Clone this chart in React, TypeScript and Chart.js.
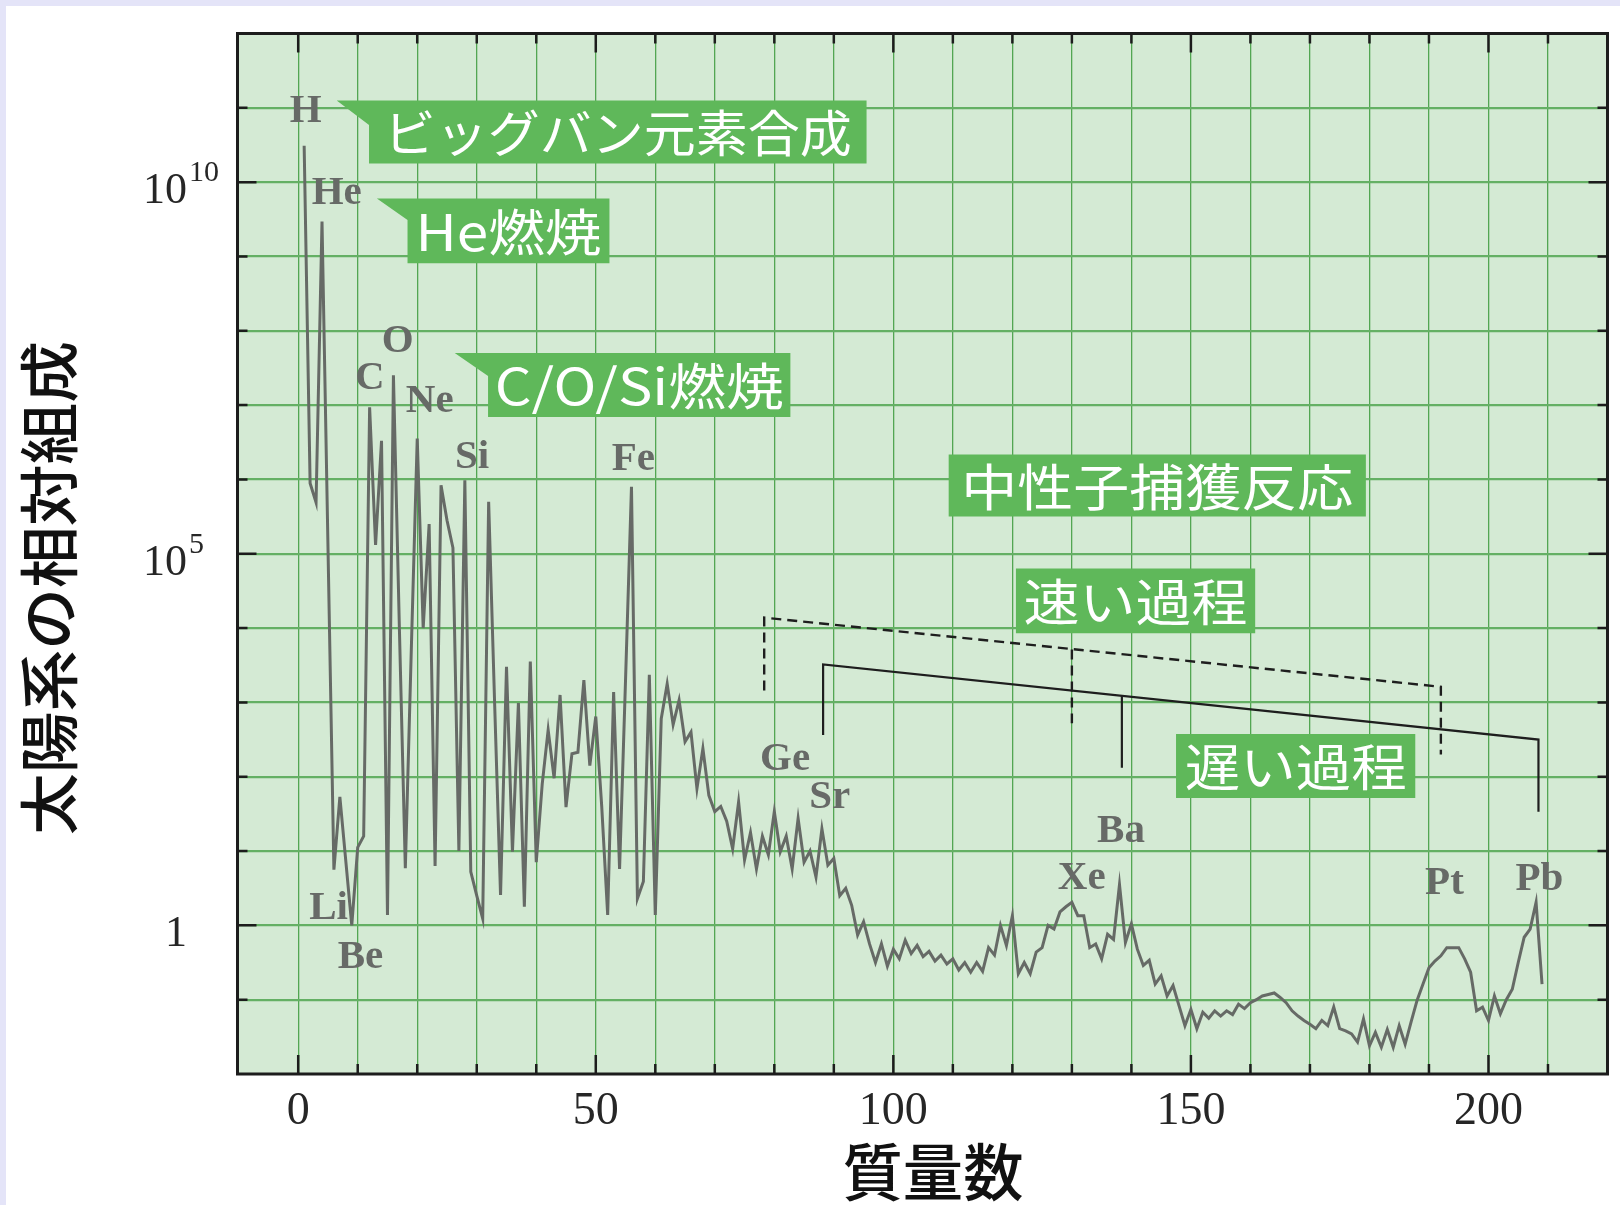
import React, { useEffect, useRef } from "react";
import { Chart, registerables } from "chart.js";

Chart.register(...registerables);

const PAGE_W = 1620;
const PAGE_H = 1205;

// Solar-system relative abundance, given as log10 values, by mass number A
const lightNuclei: [number, number][] = [
  [1, 10.49], [2, 5.95], [3, 5.69], [4, 9.47], [6, 0.75], [7, 1.73], [9, 0.0],
  [10, 1.05], [11, 1.2], [12, 6.97], [13, 5.12], [14, 6.52], [15, 0.14], [16, 7.4],
  [17, 4.0], [18, 0.77], [19, 3.7], [20, 6.55], [21, 4.0], [22, 5.4], [23, 0.8],
  [24, 5.92], [25, 5.45], [26, 5.08], [27, 1.0],
];
const siliconToIron: [number, number][] = [
  [28, 5.99], [29, 0.72], [30, 0.4], [31, 0.09], [32, 5.7], [33, 3.0], [34, 0.41],
  [35, 3.48], [36, 0.99], [37, 2.99], [38, 0.25], [39, 3.55], [40, 0.85], [41, 1.9],
  [42, 2.63], [43, 1.98], [44, 3.1], [45, 1.59], [46, 2.31], [47, 2.33], [48, 3.3],
  [49, 2.15], [50, 2.81], [51, 1.6], [52, 0.14], [53, 3.14], [54, 0.76], [55, 3.3],
  [56, 5.9], [57, 0.36], [58, 0.59], [59, 3.37], [60, 0.14], [61, 2.78], [62, 3.25],
];
const ironTail: [number, number][] = [
  [63, 2.7], [64, 3.03], [65, 2.47], [66, 2.6], [67, 1.84], [68, 2.38], [69, 1.75],
  [70, 1.53], [71, 1.6], [72, 1.4], [73, 1.03], [74, 1.66], [75, 0.88], [76, 1.25],
  [77, 0.76], [78, 1.2], [79, 0.95], [80, 1.53], [81, 0.99], [82, 1.2], [83, 0.76],
  [84, 1.44], [85, 0.85], [86, 1.0], [87, 0.65], [88, 1.3], [89, 0.81], [90, 0.9],
  [91, 0.4], [92, 0.5], [93, 0.27], [94, -0.13], [95, 0.05], [96, -0.25], [97, -0.5],
  [98, -0.25], [99, -0.55], [100, -0.32],
];
const neutronCaptureA: [number, number][] = [
  [101, -0.45], [102, -0.2], [103, -0.38], [104, -0.27], [105, -0.42], [106, -0.35],
  [107, -0.48], [108, -0.4], [109, -0.52], [110, -0.45], [111, -0.6], [112, -0.5],
  [113, -0.63], [114, -0.5], [115, -0.62], [116, -0.3], [117, -0.4], [118, 0.0],
  [119, -0.27], [120, 0.13], [121, -0.65], [122, -0.5], [123, -0.65], [124, -0.36],
  [125, -0.3], [126, 0.0], [127, -0.05], [128, 0.18], [129, 0.25], [130, 0.31],
  [131, 0.13], [132, 0.13], [133, -0.3], [134, -0.25], [135, -0.45], [136, -0.12],
  [137, -0.19], [138, 0.55], [139, -0.23], [140, 0.02], [141, -0.32], [142, -0.54],
  [143, -0.47], [144, -0.79], [145, -0.68], [146, -0.95], [147, -0.81], [148, -1.08],
  [149, -1.35], [150, -1.13],
];
const neutronCaptureB: [number, number][] = [
  [151, -1.39], [152, -1.17], [153, -1.25], [154, -1.15], [155, -1.22], [156, -1.15],
  [157, -1.2], [158, -1.06], [159, -1.12], [160, -1.04], [161, -1.0], [162, -0.95],
  [163, -0.93], [164, -0.91], [165, -0.97], [166, -1.04], [167, -1.15], [168, -1.22],
  [169, -1.28], [170, -1.33], [171, -1.39], [172, -1.28], [173, -1.35], [174, -1.1],
  [175, -1.39], [176, -1.42], [177, -1.46], [178, -1.57], [179, -1.26], [180, -1.62],
  [181, -1.44], [182, -1.64], [183, -1.4], [184, -1.64], [185, -1.35], [186, -1.6],
  [187, -1.3], [188, -1.01], [189, -0.79], [190, -0.57], [191, -0.48], [192, -0.41],
  [193, -0.3], [194, -0.3], [195, -0.3], [196, -0.45], [197, -0.63], [198, -1.15],
  [199, -1.1], [200, -1.28], [201, -0.95], [202, -1.19], [203, -1.0], [204, -0.86],
  [205, -0.5], [206, -0.16], [207, -0.05], [208, 0.31], [209, -0.79],
];

// Process brackets: [A, log10 abundance]
const rProcessBracket: [number, number][] = [[78.3, 3.16], [78.3, 4.14], [192.0, 3.21], [192.0, 2.3]];
const rProcessMidTick: [number, number][] = [[130.0, 3.71], [130.0, 2.72]];
const sProcessBracket: [number, number][] = [[88.2, 2.56], [88.2, 3.51], [208.4, 2.5], [208.4, 1.53]];
const sProcessMidTick: [number, number][] = [[138.4, 3.09], [138.4, 2.12]];

// Axes
const xGridValues = [0, 10, 20, 30, 40, 50, 60, 70, 80, 90, 100, 110, 120, 130, 140, 150, 160, 170, 180, 190, 200, 210];
const xTickValues = [0, 50, 100, 150, 200];
const xTickLabels = ["0", "50", "100", "150", "200"];
const yGridValues = [1e-1, 1, 1e1, 1e2, 1e3, 1e4, 1e5, 1e6, 1e7, 1e8, 1e9, 1e10, 1e11];
const yTickValues = [1, 1e5, 1e10];
const yTickBases = ["1", "10", "10"];
const yTickExponents = ["", "5", "10"];
const xTitle = "質量数";
const yTitle = "太陽系の相対組成";

// Element symbols (anchored at A, log10 value)
const elementLabels = [
  { text: "H", a: 1.26, lg: 10.98 },
  { text: "He", a: 6.47, lg: 9.87 },
  { text: "O", a: 16.72, lg: 7.89 },
  { text: "C", a: 12.03, lg: 7.38 },
  { text: "Ne", a: 22.1, lg: 7.07 },
  { text: "Si", a: 29.22, lg: 6.32 },
  { text: "Fe", a: 56.31, lg: 6.29 },
  { text: "Li", a: 5.09, lg: 0.25 },
  { text: "Be", a: 10.47, lg: -0.41 },
  { text: "Ge", a: 81.82, lg: 2.26 },
  { text: "Sr", a: 89.3, lg: 1.75 },
  { text: "Ba", a: 138.25, lg: 1.29 },
  { text: "Xe", a: 131.66, lg: 0.66 },
  { text: "Pt", a: 192.6, lg: 0.59 },
  { text: "Pb", a: 208.57, lg: 0.64 },
];

// Process labels: box corners in (A, log10); optional tag tip
const processLabels = [
  { text: "ビッグバン元素合成", a0: 11.9, a1: 95.5, top: 11.1, bottom: 10.25, tipA: 6.47, tipLg: 10.77, textW: 468 },
  { text: "He燃焼", a0: 18.37, a1: 52.3, top: 9.78, bottom: 8.91, tipA: 13.22, tipLg: 9.49, textW: 186 },
  { text: "C/O/Si燃焼", a0: 31.9, a1: 82.7, top: 7.7, bottom: 6.84, tipA: 26.3, tipLg: 7.39, textW: 289 },
  { text: "中性子捕獲反応", a0: 109.3, a1: 179.4, top: 6.335, bottom: 5.5, tipA: null, tipLg: null, textW: 392 },
  { text: "速い過程", a0: 120.6, a1: 160.8, top: 4.8, bottom: 3.93, tipA: null, tipLg: null, textW: 224 },
  { text: "遅い過程", a0: 147.5, a1: 187.7, top: 2.575, bottom: 1.714, tipA: null, tipLg: null, textW: 222 },
];

const COLORS = {
  page: "#ffffff",
  lavender: "#e4e4f8",
  plotBg: "#d4ead4",
  gridV: "rgb(82,166,82)",
  gridH: "rgb(100,176,100)",
  frame: "#1c1c1c",
  curve: "rgb(102,106,102)",
  bracket: "#1e1e1e",
  element: "#676a67",
  box: "#5fb85a",
  boxText: "#ffffff",
  tickText: "#262626",
};

const SERIF = "'Liberation Serif', 'Times New Roman', serif";
const CJK = "'Noto Sans CJK JP', 'Noto Sans', sans-serif";

const toPoints = (rows: [number, number][]) => rows.map(([a, lg]) => ({ x: a, y: Math.pow(10, lg) }));

function fitText(ctx: CanvasRenderingContext2D, text: string, cx: number, cy: number, font: string, targetW: number) {
  ctx.font = font;
  const w = ctx.measureText(text).width;
  const sx = targetW / w;
  ctx.save();
  ctx.translate(cx, cy);
  ctx.scale(sx, 1);
  ctx.textAlign = "center";
  ctx.textBaseline = "middle";
  ctx.fillText(text, 0, 0);
  ctx.restore();
}

const decorPlugin = {
  id: "decor",
  beforeDraw(chart: any) {
    const { ctx, chartArea: ca } = chart;
    ctx.save();
    ctx.fillStyle = COLORS.page;
    ctx.fillRect(0, 0, PAGE_W, PAGE_H);
    ctx.fillStyle = COLORS.lavender;
    ctx.fillRect(0, 0, PAGE_W, 6);
    ctx.fillRect(0, 0, 6, PAGE_H);
    ctx.fillStyle = COLORS.plotBg;
    ctx.fillRect(ca.left, ca.top, ca.right - ca.left, ca.bottom - ca.top);
    ctx.restore();
  },
  beforeDatasetsDraw(chart: any) {
    const { ctx } = chart;
    const xs = chart.scales.x;
    const ys = chart.scales.y;
    ctx.save();
    for (const p of processLabels) {
      const x0 = xs.getPixelForValue(p.a0);
      const x1 = xs.getPixelForValue(p.a1);
      const yt = ys.getPixelForValue(Math.pow(10, p.top));
      const yb = ys.getPixelForValue(Math.pow(10, p.bottom));
      ctx.fillStyle = COLORS.box;
      ctx.beginPath();
      if (p.tipA !== null && p.tipLg !== null) {
        const tx = xs.getPixelForValue(p.tipA);
        const ty = ys.getPixelForValue(Math.pow(10, p.tipLg));
        ctx.moveTo(tx, yt);
        ctx.lineTo(x1, yt);
        ctx.lineTo(x1, yb);
        ctx.lineTo(x0, yb);
        ctx.lineTo(x0, ty);
        ctx.closePath();
      } else {
        ctx.rect(x0, yt, x1 - x0, yb - yt);
      }
      ctx.fill();
      ctx.fillStyle = COLORS.boxText;
      fitText(ctx, p.text, (x0 + x1) / 2, (yt + yb) / 2 + 1, `400 50px ${CJK}`, p.textW);
    }
    ctx.fillStyle = COLORS.element;
    ctx.font = `bold 41px ${SERIF}`;
    ctx.textAlign = "center";
    ctx.textBaseline = "middle";
    for (const e of elementLabels) {
      ctx.fillText(e.text, xs.getPixelForValue(e.a), ys.getPixelForValue(Math.pow(10, e.lg)) + 2);
    }
    ctx.restore();
  },
  afterDraw(chart: any) {
    const { ctx, chartArea: ca } = chart;
    const xs = chart.scales.x;
    const ys = chart.scales.y;
    ctx.save();
    ctx.strokeStyle = COLORS.frame;
    ctx.lineWidth = 2.5;
    ctx.beginPath();
    for (const v of xGridValues) {
      const px = xs.getPixelForValue(v);
      const len = xTickValues.includes(v) ? 19 : 10;
      ctx.moveTo(px, ca.bottom);
      ctx.lineTo(px, ca.bottom - len);
      ctx.moveTo(px, ca.top);
      ctx.lineTo(px, ca.top + len);
    }
    for (const v of yGridValues) {
      const py = ys.getPixelForValue(v);
      const len = yTickValues.includes(v) ? 19 : 10;
      ctx.moveTo(ca.left, py);
      ctx.lineTo(ca.left + len, py);
      ctx.moveTo(ca.right, py);
      ctx.lineTo(ca.right - len, py);
    }
    ctx.stroke();
    ctx.lineWidth = 3;
    ctx.strokeRect(ca.left, ca.top, ca.right - ca.left, ca.bottom - ca.top);

    ctx.fillStyle = COLORS.tickText;
    ctx.font = `46px ${SERIF}`;
    ctx.textAlign = "center";
    ctx.textBaseline = "alphabetic";
    xTickValues.forEach((v, i) => {
      ctx.fillText(xTickLabels[i], xs.getPixelForValue(v), ca.bottom + 50);
    });
    yTickValues.forEach((v, i) => {
      const py = ys.getPixelForValue(v);
      ctx.font = `44px ${SERIF}`;
      ctx.textAlign = "right";
      ctx.fillText(yTickBases[i], 187, py + 21);
      if (yTickExponents[i]) {
        ctx.font = `30px ${SERIF}`;
        ctx.textAlign = "left";
        ctx.fillText(yTickExponents[i], 189, py - 1);
      }
    });

    ctx.fillStyle = "#111111";
    fitText(ctx, xTitle, 933, 1172, `500 62px ${CJK}`, 181);
    ctx.save();
    ctx.translate(49, 588);
    ctx.rotate(-Math.PI / 2);
    fitText(ctx, yTitle, 0, 0, `500 60px ${CJK}`, 494);
    ctx.restore();
    ctx.restore();
  },
};

export default function App() {
  const canvasRef = useRef<HTMLCanvasElement | null>(null);

  useEffect(() => {
    document.body.style.margin = "0";
    const canvas = canvasRef.current;
    if (!canvas) return;
    const line = (rows: [number, number][], dashed: boolean) => ({
      data: toPoints(rows),
      borderColor: COLORS.bracket,
      borderWidth: dashed ? 2.4 : 2.2,
      borderDash: dashed ? [10, 6] : [],
      pointRadius: 0,
      tension: 0,
      fill: false,
    });
    const chart = new Chart(canvas, {
      type: "line",
      data: {
        datasets: [
          {
            label: "abundance",
            data: toPoints([...lightNuclei, ...siliconToIron, ...ironTail, ...neutronCaptureA, ...neutronCaptureB]),
            borderColor: COLORS.curve,
            borderWidth: 3,
            pointRadius: 0,
            tension: 0,
            fill: false,
          } as any,
          line(rProcessBracket, true) as any,
          line(rProcessMidTick, true) as any,
          line(sProcessBracket, false) as any,
          line(sProcessMidTick, false) as any,
        ],
      },
      options: {
        animation: false,
        responsive: false,
        devicePixelRatio: 1,
        events: [],
        layout: { padding: { left: 237.5, top: 33.5, right: 12.5, bottom: 131 } },
        plugins: { legend: { display: false }, tooltip: { enabled: false } },
        scales: {
          x: {
            type: "linear",
            min: -10.2,
            max: 220,
            afterBuildTicks: (s: any) => {
              s.ticks = xGridValues.map((v) => ({ value: v }));
            },
            ticks: { display: false },
            grid: { color: COLORS.gridV, lineWidth: 1.3, drawTicks: false },
            border: { display: false },
          },
          y: {
            type: "logarithmic",
            min: 1e-2,
            max: 1e12,
            afterBuildTicks: (s: any) => {
              s.ticks = yGridValues.map((v) => ({ value: v }));
            },
            ticks: { display: false },
            grid: { color: COLORS.gridH, lineWidth: 2.2, drawTicks: false },
            border: { display: false },
          },
        },
      } as any,
      plugins: [decorPlugin as any],
    });
    return () => chart.destroy();
  }, []);

  return (
    <div style={{ width: PAGE_W, height: PAGE_H, position: "relative", background: "#fff" }}>
      <canvas ref={canvasRef} width={PAGE_W} height={PAGE_H} style={{ display: "block", width: PAGE_W, height: PAGE_H }} />
    </div>
  );
}
